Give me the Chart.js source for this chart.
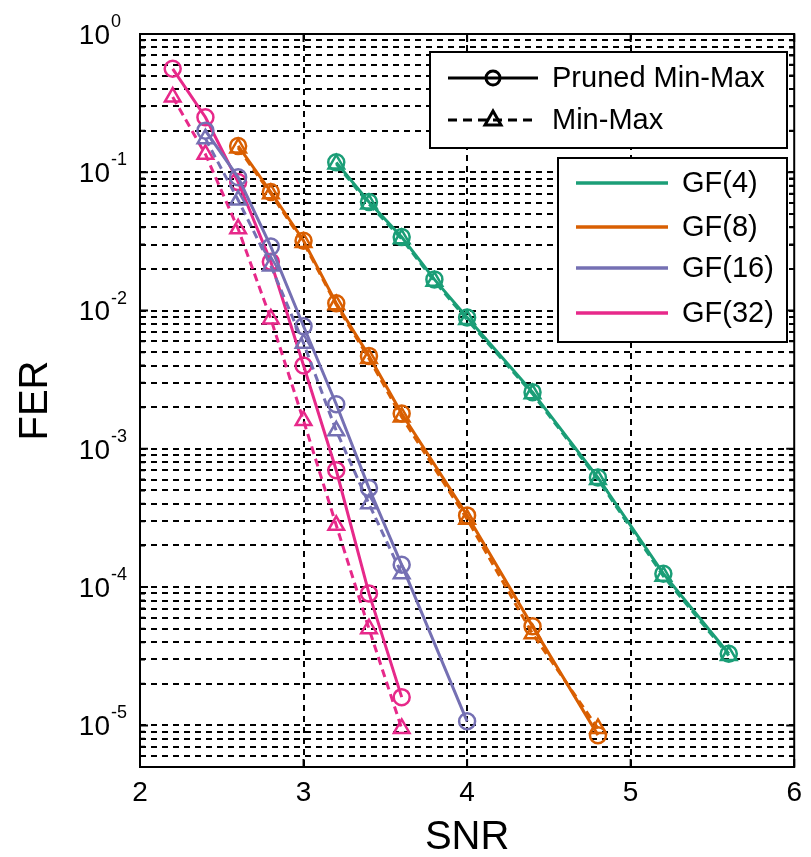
<!DOCTYPE html>
<html><head><meta charset="utf-8">
<script src="https://cdn.jsdelivr.net/npm/chart.js@4/dist/chart.umd.min.js"></script>
<style>html,body{margin:0;padding:0;background:#fff}#wrap{width:811px;height:857px}</style>
</head><body><div id="wrap"><canvas id="c" width="811" height="857"></canvas></div>
<script>
// ---- data ----
const snrGF4 = [3.2, 3.4, 3.6, 3.8, 4.0, 4.4, 4.8, 5.2, 5.6];
const ferGF4Pruned = [0.118, 0.061, 0.034, 0.0168, 0.0089, 0.00257, 6.2e-4, 1.25e-4, 3.3e-5];
const ferGF4MinMax = [0.115, 0.059, 0.033, 0.0163, 0.0086, 0.0025, 6.0e-4, 1.2e-4, 3.2e-5];

const snrGF8 = [2.6, 2.8, 3.0, 3.2, 3.4, 3.6, 4.0, 4.4, 4.8];
const ferGF8Pruned = [0.155, 0.072, 0.032, 0.0113, 0.0047, 0.0018, 3.3e-4, 5.2e-5, 8.5e-6];
const ferGF8MinMax = [0.15, 0.07, 0.031, 0.011, 0.0045, 0.0017, 3.1e-4, 4.6e-5, 9.5e-6];

const snrGF16Pruned = [2.4, 2.6, 2.8, 3.0, 3.2, 3.4, 3.6, 4.0];
const ferGF16Pruned = [0.2, 0.092, 0.029, 0.0077, 0.0021, 5.2e-4, 1.45e-4, 1.07e-5];
const snrGF16MinMax = [2.4, 2.6, 2.8, 3.0, 3.2, 3.4, 3.6];
const ferGF16MinMax = [0.175, 0.063, 0.021, 0.0058, 0.00135, 4.0e-4, 1.25e-4];

const snrGF32 = [2.2, 2.4, 2.6, 2.8, 3.0, 3.2, 3.4, 3.6];
const ferGF32Pruned = [0.56, 0.25, 0.085, 0.0225, 0.0040, 7.0e-4, 9.0e-5, 1.6e-5];
const ferGF32MinMax = [0.35, 0.135, 0.039, 0.0087, 0.0016, 2.8e-4, 5.0e-5, 9.5e-6];

const xTicks = [2, 3, 4, 5, 6];
const yDecadeExponents = [0, -1, -2, -3, -4, -5];
const yMinorMultipliers = [1, 2, 3, 4, 5, 6, 7, 8, 9];
const decoderLabels = ['Pruned Min-Max', 'Min-Max'];
const fieldLabels = ['GF(4)', 'GF(8)', 'GF(16)', 'GF(32)'];
const fieldColors = ['#1b9e77', '#d95f02', '#7570b3', '#e7298a'];

// ---- build datasets ----
function pts(xs, ys){ return xs.map((x,i)=>({x:x, y:ys[i]})); }
function ds(xs, ys, color, pruned){
  return {
    data: pts(xs, ys),
    borderColor: color,
    backgroundColor: 'rgba(0,0,0,0)',
    pointBackgroundColor: 'rgba(0,0,0,0)',
    pointBorderColor: color,
    borderWidth: 3,
    pointBorderWidth: 2.5,
    borderDash: pruned ? [] : [8,5],
    pointStyle: pruned ? 'circle' : 'triangle',
    pointRadius: pruned ? 8 : 9,
    tension: 0
  };
}
const datasets = [
  ds(snrGF4, ferGF4MinMax, fieldColors[0], false),
  ds(snrGF4, ferGF4Pruned, fieldColors[0], true),
  ds(snrGF8, ferGF8MinMax, fieldColors[1], false),
  ds(snrGF8, ferGF8Pruned, fieldColors[1], true),
  ds(snrGF16MinMax, ferGF16MinMax, fieldColors[2], false),
  ds(snrGF16Pruned, ferGF16Pruned, fieldColors[2], true),
  ds(snrGF32, ferGF32MinMax, fieldColors[3], false),
  ds(snrGF32, ferGF32Pruned, fieldColors[3], true)
];

const FONT = '"Liberation Sans", Arial, Helvetica, sans-serif';

const overlay = {
  id: 'overlay',
  beforeDatasetsDraw(chart){
    const {ctx, chartArea:a, scales:{x, y}} = chart;
    ctx.save();
    ctx.strokeStyle = '#000';
    ctx.lineWidth = 2;
    ctx.setLineDash([]);
    ctx.beginPath();
    y.ticks.forEach(t=>{
      const py = y.getPixelForValue(t.value);
      const lg = Math.log10(t.value);
      const major = Math.abs(lg - Math.round(lg)) < 1e-6;
      const len = major ? 8 : 5;
      ctx.moveTo(a.left, py); ctx.lineTo(a.left+len, py);
      ctx.moveTo(a.right, py); ctx.lineTo(a.right-len, py);
    });
    x.ticks.forEach(t=>{
      const px = x.getPixelForValue(t.value);
      ctx.moveTo(px, a.bottom); ctx.lineTo(px, a.bottom-8);
      ctx.moveTo(px, a.top); ctx.lineTo(px, a.top+8);
    });
    ctx.stroke();
    ctx.strokeRect(a.left, a.top, a.right-a.left, a.bottom-a.top);
    ctx.restore();
  },
  afterDraw(chart){
    const {ctx, chartArea:a, scales:{y}} = chart;
    ctx.save();
    ctx.fillStyle = '#000';
    // y tick labels with superscripts
    yDecadeExponents.forEach(e=>{
      const py = y.getPixelForValue(Math.pow(10, e));
      ctx.font = '28px ' + FONT;
      ctx.textAlign = 'right'; ctx.textBaseline = 'middle';
      ctx.fillText('10', 110, py + 2);
      ctx.font = '18px ' + FONT;
      ctx.textAlign = 'left';
      ctx.fillText(String(e), 111, py - 12);
    });
    // axis titles
    ctx.font = '40px ' + FONT;
    ctx.textAlign = 'center'; ctx.textBaseline = 'middle';
    ctx.fillText('SNR', (a.left + a.right)/2, 838);
    ctx.save();
    ctx.translate(36, (a.top + a.bottom)/2);
    ctx.rotate(-Math.PI/2);
    ctx.fillText('FER', 0, 0);
    ctx.restore();

    // legend 1: decoder styles
    ctx.fillStyle = '#fff';
    ctx.fillRect(430, 52, 357, 96);
    ctx.strokeStyle = '#000'; ctx.lineWidth = 2; ctx.setLineDash([]);
    ctx.strokeRect(430, 52, 357, 96);
    const rows1 = [78, 120];
    decoderLabels.forEach((lab, i)=>{
      const ry = rows1[i];
      ctx.strokeStyle = '#000'; ctx.lineWidth = 3;
      ctx.setLineDash(i === 0 ? [] : [9,6]);
      ctx.beginPath(); ctx.moveTo(448, ry); ctx.lineTo(538, ry); ctx.stroke();
      ctx.setLineDash([]);
      ctx.beginPath();
      if (i === 0) { ctx.arc(493, ry, 7, 0, Math.PI*2); }
      else { ctx.moveTo(493, ry-9); ctx.lineTo(501, ry+5); ctx.lineTo(485, ry+5); ctx.closePath(); }
      ctx.stroke();
      ctx.fillStyle = '#000';
      ctx.font = '29px ' + FONT;
      ctx.textAlign = 'left'; ctx.textBaseline = 'middle';
      ctx.fillText(lab, 552, ry + 1);
    });

    // legend 2: fields
    ctx.fillStyle = '#fff';
    ctx.fillRect(558, 158, 229, 184);
    ctx.strokeStyle = '#000'; ctx.lineWidth = 2;
    ctx.strokeRect(558, 158, 229, 184);
    const rows2 = [183, 227, 268, 313];
    fieldLabels.forEach((lab, i)=>{
      const ry = rows2[i];
      ctx.strokeStyle = fieldColors[i]; ctx.lineWidth = 3.5;
      ctx.beginPath(); ctx.moveTo(576, ry); ctx.lineTo(668, ry); ctx.stroke();
      ctx.fillStyle = '#000';
      ctx.font = '29px ' + FONT;
      ctx.textAlign = 'left'; ctx.textBaseline = 'middle';
      ctx.fillText(lab, 682, ry + 1);
    });
    ctx.restore();
  }
};

new Chart(document.getElementById('c'), {
  type: 'line',
  data: { datasets: datasets },
  options: {
    responsive: false,
    animation: false,
    layout: { padding: { left: 0, top: 34, right: 12, bottom: 0 } },
    plugins: { legend: { display: false }, tooltip: { enabled: false } },
    scales: {
      x: {
        type: 'linear', min: 2, max: 6,
        afterBuildTicks: s => { s.ticks = xTicks.map(v=>({value:v})); },
        afterFit: s => { s.height = 90; },
        border: { display: false, dash: [6,5] },
        grid: {
          drawTicks: false,
          color: c => (c.tick && (c.tick.value === 2 || c.tick.value === 6)) ? 'rgba(0,0,0,0)' : '#000',
          lineWidth: 2
        },
        ticks: { color: '#000', font: { size: 28, family: FONT }, padding: 9, maxRotation: 0 }
      },
      y: {
        type: 'logarithmic', min: 5e-6, max: 1,
        afterBuildTicks: s => {
          const t = [];
          yDecadeExponents.concat([-6]).forEach(e=>{
            yMinorMultipliers.forEach(m=>{
              const v = m * Math.pow(10, e);
              if (v >= 5e-6 - 1e-12 && v <= 1 + 1e-12) t.push({value: v});
            });
          });
          s.ticks = t;
        },
        afterFit: s => { s.width = 140; },
        border: { display: false, dash: [6,5] },
        grid: {
          drawTicks: false,
          color: c => (c.tick && (Math.abs(c.tick.value - 1) < 1e-9 || Math.abs(c.tick.value - 5e-6) < 1e-12)) ? 'rgba(0,0,0,0)' : '#000',
          lineWidth: 2
        },
        ticks: { display: false }
      }
    }
  },
  plugins: [overlay]
});
</script>
</body></html>
